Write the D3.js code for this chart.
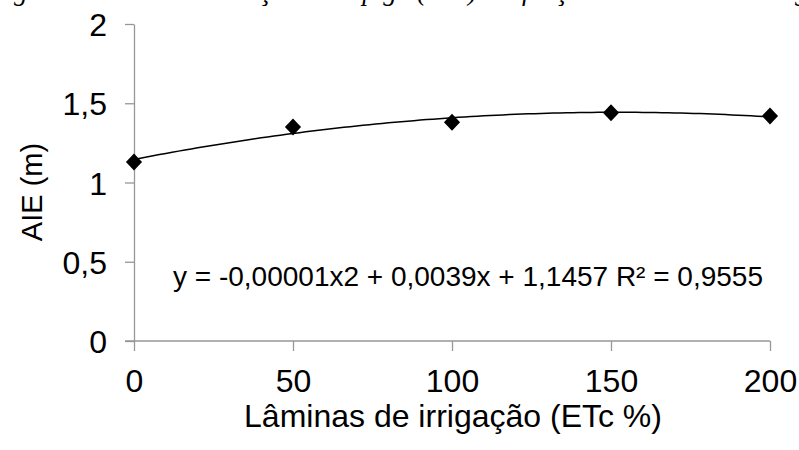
<!DOCTYPE html>
<html>
<head>
<meta charset="utf-8">
<script src="https://cdn.jsdelivr.net/npm/d3@7"></script>
<style>
  html, body { margin: 0; padding: 0; background: #fff; }
  svg { display: block; }
</style>
</head>
<body>
<svg id="chart" width="799" height="450"></svg>
<script>
// ---- data ----
const laminas = [0, 50, 100, 150, 200];          // Lâminas de irrigação (ETc %)
const aie = [1.13, 1.35, 1.38, 1.44, 1.42];        // AIE (m)
const xTicks = [0, 50, 100, 150, 200];
const yTicks = [0, 0.5, 1, 1.5, 2];
const equationText = "y = -0,00001x2 + 0,0039x + 1,1457 R² = 0,9555";
const captionPrefix = "Figura 1. Altura de inserção da espiga ";
const captionRest = "(AIE) em função de lâminas de irrigação";
const xTitle = "Lâminas de irrigação (ETc %)";
const yTitle = "AIE (m)";

const svg = d3.select("#chart");
const font = "'Liberation Sans', Arial, sans-serif";

const x = d3.scaleLinear().domain([0, 200]).range([134, 770]);
const y = d3.scaleLinear().domain([0, 2]).range([341, 24]);

// caption (cut off at top of the picture)
const cap = svg.append("text")
  .attr("y", 0)
  .attr("font-family", "'Liberation Serif', 'Times New Roman', serif")
  .attr("font-style", "italic")
  .attr("font-size", 27)
  .attr("fill", "#000");
const capPre = cap.append("tspan").text(captionPrefix);
cap.append("tspan").text(captionRest);
const preW = capPre.node().getComputedTextLength();
cap.attr("x", 417 - preW);

// axes
const axisColor = "#979797";
const gx = svg.append("g").attr("transform", `translate(0,${y(0)})`)
  .call(d3.axisBottom(x).tickValues(xTicks).tickSize(10).tickSizeOuter(0)
    .tickFormat(d => d3.format("d")(d)));
const gy = svg.append("g").attr("transform", `translate(${x(0)},0)`)
  .call(d3.axisLeft(y).tickValues(yTicks).tickSize(9).tickSizeOuter(0).tickPadding(18)
    .tickFormat(d => String(d).replace(".", ",")));

[gx, gy].forEach(g => {
  g.select(".domain").attr("stroke", axisColor).attr("stroke-width", 1.3);
  g.selectAll(".tick line").attr("stroke", axisColor).attr("stroke-width", 1.3);
  g.selectAll(".tick text").attr("font-family", font).attr("font-size", 32).attr("fill", "#000");
});
gx.selectAll(".tick text").attr("y", 51).attr("dy", 0);
gy.selectAll(".tick text").attr("dy", "0.36em");

// x domain extends slightly left of y axis
gx.select(".domain").attr("d", `M${x(0) - 9},0H${x(200)}`);

// polynomial (2nd order) trendline by least squares
function polyfit2(xs, ys) {
  let S = [0,0,0,0,0], T = [0,0,0];
  xs.forEach((xi, i) => {
    for (let k = 0; k < 5; k++) S[k] += Math.pow(xi, k);
    for (let k = 0; k < 3; k++) T[k] += Math.pow(xi, k) * ys[i];
  });
  const A = [[S[0],S[1],S[2],T[0]],[S[1],S[2],S[3],T[1]],[S[2],S[3],S[4],T[2]]];
  for (let i = 0; i < 3; i++) {
    for (let j = i + 1; j < 3; j++) {
      const f = A[j][i] / A[i][i];
      for (let k = i; k < 4; k++) A[j][k] -= f * A[i][k];
    }
  }
  const c = [0,0,0];
  for (let i = 2; i >= 0; i--) {
    let s = A[i][3];
    for (let k = i + 1; k < 3; k++) s -= A[i][k] * c[k];
    c[i] = s / A[i][i];
  }
  return c;
}
const coef = polyfit2(laminas, aie);
const trend = d3.range(0, 200.01, 2).map(v => [v, coef[0] + coef[1]*v + coef[2]*v*v]);
svg.append("path")
  .datum(trend)
  .attr("fill", "none").attr("stroke", "#000").attr("stroke-width", 1.5)
  .attr("d", d3.line().x(d => x(d[0])).y(d => y(d[1])));

// markers (diamonds)
const r = 8.5;
svg.append("g").selectAll("path")
  .data(laminas.map((v, i) => [v, aie[i]]))
  .join("path")
  .attr("d", d => {
    const cx = x(d[0]), cy = y(d[1]);
    return `M${cx},${cy - r}L${cx + r*0.95},${cy}L${cx},${cy + r}L${cx - r*0.95},${cy}Z`;
  })
  .attr("fill", "#000");

// equation
svg.append("text")
  .attr("x", 173).attr("y", 286)
  .attr("font-family", font).attr("font-size", 28).attr("fill", "#000")
  .text(equationText);

// axis titles
svg.append("text")
  .attr("x", 453).attr("y", 427)
  .attr("text-anchor", "middle")
  .attr("font-family", font).attr("font-size", 32).attr("fill", "#000")
  .text(xTitle);
svg.append("text")
  .attr("transform", `translate(42,192) rotate(-90)`)
  .attr("text-anchor", "middle")
  .attr("font-family", font).attr("font-size", 29).attr("fill", "#000")
  .text(yTitle);
</script>
</body>
</html>
